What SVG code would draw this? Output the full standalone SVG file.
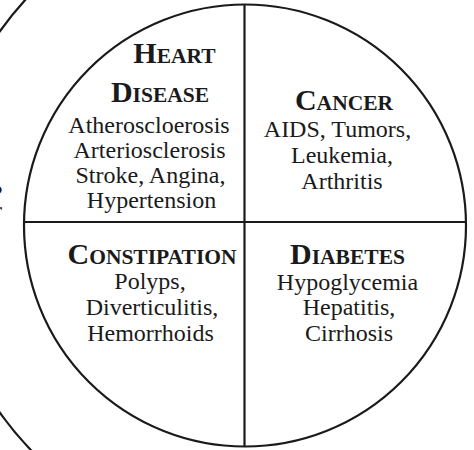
<svg xmlns="http://www.w3.org/2000/svg" width="474" height="450" viewBox="0 0 474 450">
<style>
.ln{fill:none;stroke:#1a1a1a;stroke-width:2.2}
text{font-family:'Liberation Serif','Times New Roman',Times,serif;fill:#1a1a1a;text-anchor:middle}
.h{font-weight:bold}
.big{font-size:30px}
.sm{font-size:21.5px}
.b{font-size:24px}
</style>
<rect width="474" height="450" fill="#fff"/>
<g id="outer-ring">
<circle class="ln" cx="268" cy="222" r="329"/>
<text class="b h" x="-3" y="201">?</text>
<text class="b" x="-2" y="218">r</text>
</g>
<g id="connectors">
<circle class="ln" cx="245" cy="225.5" r="221"/>
<line class="ln" x1="244.5" y1="4.5" x2="244.5" y2="446.5"/>
<line class="ln" x1="24" y1="222" x2="466" y2="222"/>
</g>
<g id="heart-disease">
<text class="h" x="174.5" y="63"><tspan class="big">H</tspan><tspan class="sm">EART</tspan></text>
<text class="h" x="160" y="102"><tspan class="big">D</tspan><tspan class="sm">ISEASE</tspan></text>
<text class="b" x="149" y="133">Atheroscloerosis</text>
<text class="b" x="149.5" y="158">Arteriosclerosis</text>
<text class="b" x="150.5" y="183">Stroke, Angina,</text>
<text class="b" x="151.5" y="208">Hypertension</text>
</g>
<g id="cancer">
<text class="h" x="344" y="110"><tspan class="big">C</tspan><tspan class="sm">ANCER</tspan></text>
<text class="b" x="337.5" y="137">AIDS, Tumors,</text>
<text class="b" x="342" y="163">Leukemia,</text>
<text class="b" x="342" y="189">Arthritis</text>
</g>
<g id="constipation">
<text class="h" x="152" y="264"><tspan class="big">C</tspan><tspan class="sm">ONSTIPATION</tspan></text>
<text class="b" x="150" y="289">Polyps,</text>
<text class="b" x="152" y="315">Diverticulitis,</text>
<text class="b" x="150.5" y="341">Hemorrhoids</text>
</g>
<g id="diabetes">
<text class="h" x="347.5" y="264"><tspan class="big">D</tspan><tspan class="sm">IABETES</tspan></text>
<text class="b" x="347.5" y="290">Hypoglycemia</text>
<text class="b" x="349" y="315">Hepatitis,</text>
<text class="b" x="349" y="341">Cirrhosis</text>
</g>
</svg>
